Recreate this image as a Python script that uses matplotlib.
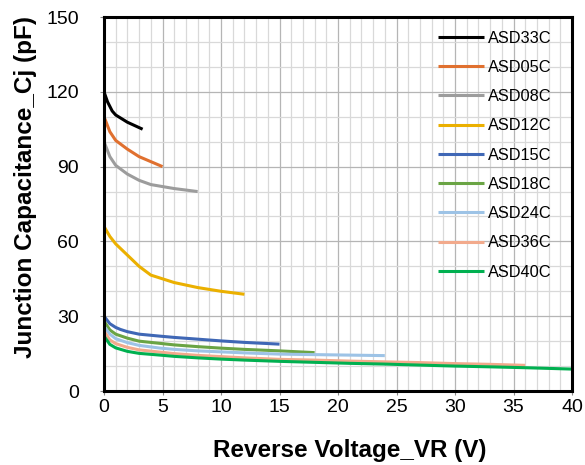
import matplotlib.pyplot as plt
from matplotlib.ticker import MultipleLocator

plt.rcParams["font.family"] = ["Liberation Sans", "DejaVu Sans"]

# reverse voltage (V) / junction capacitance (pF) per part
v33 = [0, 0.3, 0.7, 1, 2, 3.3]
c33 = [120, 116, 112.3, 110.7, 107.8, 105]
v05 = [0, 0.5, 1, 2, 3, 4, 5]
c05 = [110, 104, 100.5, 97, 94, 92, 90]
v08 = [0, 0.5, 1, 2, 3, 4, 5, 6, 8]
c08 = [100, 94, 90.5, 87, 84.5, 82.8, 82, 81.2, 80]
v12 = [0, 0.5, 1, 2, 3, 4, 6, 8, 10, 12]
c12 = [66, 62, 59, 54.5, 50, 46.5, 43.5, 41.5, 40, 38.8]
v15 = [0, 0.5, 1, 1.4, 2, 3, 4.8, 6, 8, 10, 12, 15]
c15 = [30, 27, 25.5, 24.7, 23.8, 22.8, 22, 21.5, 20.8, 20.1, 19.5, 18.8]
v18 = [0, 0.5, 1, 2, 3, 4.8, 6, 8, 10, 12, 15, 18]
c18 = [28, 24.5, 22.8, 21.2, 20, 19.1, 18.5, 17.8, 17.2, 16.7, 16.1, 15.4]
v24 = [0, 0.5, 1, 2, 3, 4.8, 6, 8, 10, 12, 15, 18, 21, 24]
c24 = [26, 22.8, 21, 19.4, 18.3, 17.2, 16.7, 16.1, 15.7, 15.3, 14.8, 14.6, 14.4, 14.2]
v36 = [0, 0.5, 1, 2, 3, 4.8, 6, 8, 10, 12, 15, 18, 21, 24, 27, 30, 33, 36]
c36 = [24, 20.5, 19, 17.5, 16.5, 15.6, 15, 14.3, 13.8, 13.3, 12.7, 12.4, 12, 11.7,
       11.4, 11, 10.7, 10.3]
v40 = [0, 0.5, 1, 2, 3, 4.8, 6, 8, 10, 12, 15, 18, 21, 24, 27, 30, 33, 36, 40]
c40 = [22, 18.7, 17.3, 15.9, 15.1, 14.4, 13.9, 13.3, 12.8, 12.4, 11.9, 11.5, 11.1,
       10.8, 10.4, 10, 9.7, 9.35, 8.8]

series = [
    ("ASD33C", v33, c33, "#000000"),
    ("ASD05C", v05, c05, "#E0702F"),
    ("ASD08C", v08, c08, "#9C9C9C"),
    ("ASD12C", v12, c12, "#EBB000"),
    ("ASD15C", v15, c15, "#3F67B5"),
    ("ASD18C", v18, c18, "#6AA444"),
    ("ASD24C", v24, c24, "#9DC3E6"),
    ("ASD36C", v36, c36, "#F2AA8C"),
    ("ASD40C", v40, c40, "#00B050"),
]

fig = plt.figure(figsize=(5.85, 4.65), dpi=100)
ax = fig.add_axes([0.1778, 0.1591, 0.80, 0.8043])

for name, v, c, color in series:
    ax.plot(v, c, color=color, linewidth=2.2, label=name, solid_capstyle="butt")

ax.set_xlim(0, 40)
ax.set_ylim(0, 150)
ax.xaxis.set_major_locator(MultipleLocator(5))
ax.xaxis.set_minor_locator(MultipleLocator(1))
ax.yaxis.set_major_locator(MultipleLocator(30))
ax.yaxis.set_minor_locator(MultipleLocator(10))
ax.grid(which="minor", color="#d9d9d9", linewidth=0.9)
ax.grid(which="major", color="#b5b5b5", linewidth=0.9)
ax.set_axisbelow(True)

for sp in ax.spines.values():
    sp.set_linewidth(2.2)
    sp.set_color("black")

ax.tick_params(which="major", length=3, width=0.8, color="#888888", labelsize=14)
ax.tick_params(axis="y", pad=15)
ax.tick_params(axis="x", pad=3)
ax.tick_params(which="minor", length=0)

ax.set_xlabel("Reverse Voltage_VR (V)", fontsize=17.5, fontweight="bold")
ax.set_ylabel("Junction Capacitance_Cj (pF)", fontsize=17.5, fontweight="bold")
ax.xaxis.set_label_coords(0.5256, -0.129)
ax.yaxis.set_label_coords(-0.143, 0.546)

ax.legend(loc="upper right", bbox_to_anchor=(0.977, 0.99), frameon=False,
          fontsize=11.8, handlelength=2.8, handletextpad=0.2, labelspacing=0.87,
          borderaxespad=0.2)

fig.savefig("out.png", dpi=100)
